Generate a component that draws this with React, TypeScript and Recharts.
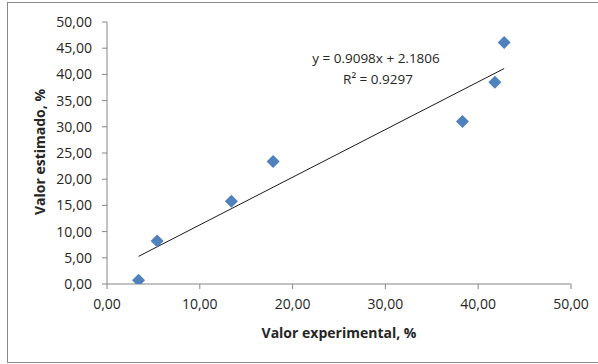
import React from "react";
import {
  ScatterChart,
  Scatter,
  XAxis,
  YAxis,
  Customized,
} from "recharts";

const experimental = [3.4, 5.4, 13.4, 17.9, 38.3, 41.8, 42.8];
const estimated = [0.7, 8.2, 15.8, 23.4, 31.0, 38.5, 46.1];

const xTicks = [0, 10, 20, 30, 40, 50];
const yTicks = [0, 5, 10, 15, 20, 25, 30, 35, 40, 45, 50];

// Linear trend line as printed on the chart.
const slope = 0.9098;
const intercept = 2.1806;
const trendX = [3.4, 42.8];

const points = experimental.map((x, i) => ({ x, y: estimated[i] }));
const trend = trendX.map((x) => ({ x, y: slope * x + intercept }));

const FONT = "'Open Sans', sans-serif";
const TEXT = "#262626";
const AXIS = "#868686";

const fmt = (v: number) => v.toFixed(2).replace(".", ",");

function Diamond(props: any) {
  const { cx, cy } = props;
  const r = 6.5;
  return (
    <polygon
      points={`${cx},${cy - r} ${cx + r},${cy} ${cx},${cy + r} ${cx - r},${cy}`}
      fill="#4F81BD"
    />
  );
}

function Equation() {
  return (
    <g fontFamily={FONT} fontSize={13.5} fill={TEXT}>
      <text x={376} y={63} textAnchor="middle">
        y = 0.9098x + 2.1806
      </text>
      <text x={378} y={84} textAnchor="middle">
        R² = 0.9297
      </text>
      <text
        x={339}
        y={338}
        textAnchor="middle"
        fontWeight="bold"
        fontSize={14}
      >
        Valor experimental, %
      </text>
      <text
        transform="translate(45,152) rotate(-90)"
        textAnchor="middle"
        fontWeight="bold"
        fontSize={14}
      >
        Valor estimado, %
      </text>
    </g>
  );
}

export default function App() {
  return (
    <div
      style={{
        position: "absolute",
        left: 0,
        top: 0,
        width: 598,
        height: 364,
        overflow: "hidden",
        background: "#fff",
      }}
    >
      <div
        style={{
          position: "absolute",
          left: 7,
          top: 2,
          width: 600,
          height: 359,
          border: "1px solid #898989",
        }}
      />
      <div style={{ position: "absolute", left: 0, top: 0 }}>
        <ScatterChart
          width={598}
          height={364}
          margin={{ top: 22, right: 27, bottom: 50, left: 8 }}
        >
          <XAxis
            type="number"
            dataKey="x"
            domain={[0, 50]}
            ticks={xTicks}
            tickFormatter={fmt}
            height={30}
            stroke={AXIS}
            tickSize={5}
            tickMargin={10}
            tick={{ fill: TEXT, fontFamily: FONT, fontSize: 14 }}
            allowDataOverflow
          />
          <YAxis
            type="number"
            dataKey="y"
            domain={[0, 50]}
            ticks={yTicks}
            tickFormatter={fmt}
            width={99}
            stroke={AXIS}
            tickSize={5}
            tickMargin={10}
            tick={{ fill: TEXT, fontFamily: FONT, fontSize: 14 }}
            allowDataOverflow
          />
          <Scatter
            data={trend}
            line={{ stroke: "#1a1a1a", strokeWidth: 1 }}
            shape={() => null}
            isAnimationActive={false}
          />
          <Scatter
            data={points}
            shape={<Diamond />}
            isAnimationActive={false}
          />
          <Customized component={<Equation />} />
        </ScatterChart>
      </div>
    </div>
  );
}
